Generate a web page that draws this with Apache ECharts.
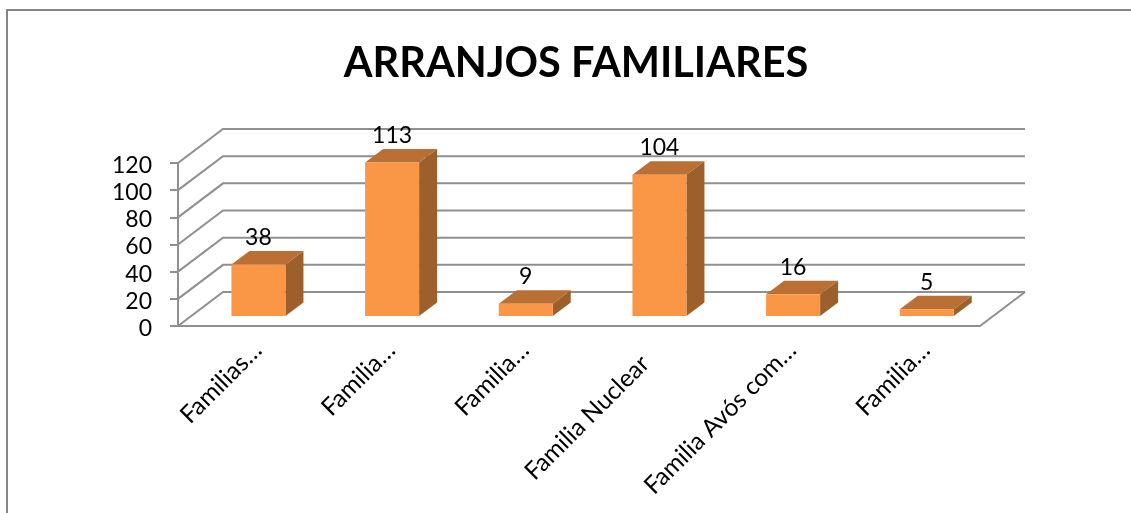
<!DOCTYPE html>
<html>
<head>
<meta charset="utf-8">
<title>Arranjos Familiares</title>
<style>
    html, body { margin: 0; padding: 0; background: #fff; }
    #chart { width: 1131px; height: 513px; }
</style>
<script src="https://cdn.jsdelivr.net/npm/echarts@6/dist/echarts.min.js"></script>
</head>
<body>
<div id="chart"></div>
<script>
var chartTitle = 'ARRANJOS FAMILIARES';
var categories = ['Familias…', 'Familia…', 'Familia…', 'Familia Nuclear', 'Familia Avós com…', 'Familia…'];
var values = [38, 113, 9, 104, 16, 5];
var yTicks = [0, 20, 40, 60, 80, 100, 120];

var fontName = 'Lato';
var lineColor = '#8f8f8f';
var depthX = 45, depthY = 34;     // parede do fundo em relacao ao plano da frente
var barX = 13.6, barY = 10;       // onde a base da barra fica no piso
var sideX = 18, sideY = 13.5;     // profundidade da propria barra

var myChart = echarts.init(document.getElementById('chart'));

function renderWall(params, api) {
    var p = api.coord([0, api.value(1)]);
    var left = params.coordSys.x;
    var right = params.coordSys.x + params.coordSys.width;
    var children = [{
        type: 'polyline',
        shape: { points: [[left, p[1]], [left + depthX, p[1] - depthY], [right + depthX, p[1] - depthY]] },
        style: { stroke: lineColor, lineWidth: 2, fill: null }
    }];
    if (api.value(1) === 0) {
        children.push({
            type: 'line',
            shape: { x1: right, y1: p[1], x2: right + depthX, y2: p[1] - depthY },
            style: { stroke: lineColor, lineWidth: 2 }
        });
    }
    return { type: 'group', children: children };
}

function renderBar(params, api) {
    var top = api.coord([api.value(0), api.value(1)]);
    var base = api.coord([api.value(0), 0]);
    var w = api.size([1, 0])[0] * 0.404;
    var x0 = top[0] + barX - w / 2;
    var x1 = x0 + w;
    var y0 = top[1] - barY;
    var y1 = base[1] - barY;
    return {
        type: 'group',
        children: [
            {
                type: 'polygon',
                shape: { points: [[x0, y0], [x0 + sideX, y0 - sideY], [x1 + sideX, y0 - sideY], [x1, y0]] },
                style: { fill: '#ba7034' }
            },
            {
                type: 'polygon',
                shape: { points: [[x1, y0], [x1 + sideX, y0 - sideY], [x1 + sideX, y1 - sideY], [x1, y1]] },
                style: { fill: '#9d5f2b' }
            },
            {
                type: 'rect',
                shape: { x: x0, y: y0, width: w, height: y1 - y0 },
                style: { fill: '#f99746' }
            },
            {
                type: 'text',
                x: (x0 + x1) / 2,
                y: y0 - 27,
                style: {
                    text: String(api.value(1)),
                    fill: '#000',
                    font: '23px ' + fontName,
                    align: 'center',
                    verticalAlign: 'middle'
                }
            }
        ]
    };
}

// rotulos sem reticencias ficam mais perto do eixo
function categoryItem(name) {
    var cut = name.indexOf('…') >= 0;
    return { value: name, textStyle: { padding: [0, cut ? -18 : 1, 0, 0] } };
}

var option = {
    animation: false,
    backgroundColor: '#fff',
    title: {
        text: chartTitle,
        left: 571,
        top: 38,
        textAlign: 'center',
        textStyle: { fontFamily: fontName, fontWeight: 'bold', fontSize: 41.5, color: '#000' }
    },
    graphic: [
        {
            type: 'polyline',
            shape: { points: [[7, 513], [7, 10], [1131, 10]] },
            style: { stroke: '#868686', lineWidth: 2, fill: null }
        }
    ],
    grid: { left: 178, right: 151, top: 163, bottom: 187 },
    xAxis: {
        type: 'category',
        data: categories.map(categoryItem),
        axisTick: { show: false },
        axisLine: { lineStyle: { color: lineColor, width: 2 } },
        axisLabel: {
            interval: 0,
            rotate: 45,
            margin: 33,
            color: '#000',
            fontFamily: fontName,
            fontSize: 24.5
        }
    },
    yAxis: {
        type: 'value',
        min: 0,
        max: 120,
        interval: 20,
        splitLine: { show: false },
        axisLine: { show: true, lineStyle: { color: lineColor, width: 2 } },
        axisTick: { show: true, length: 8, lineStyle: { color: lineColor, width: 2 } },
        axisLabel: {
            margin: 26,
            verticalAlign: 'top',
            padding: [-9, 0, 0, 0],
            color: '#000',
            fontFamily: fontName,
            fontSize: 23
        }
    },
    series: [
        {
            type: 'custom',
            renderItem: renderWall,
            silent: true,
            z: 1,
            encode: { x: 0, y: 1 },
            data: yTicks.map(function (t) { return [0, t]; })
        },
        {
            type: 'custom',
            renderItem: renderBar,
            z: 3,
            encode: { x: 0, y: 1 },
            data: values.map(function (v, i) { return [i, v]; })
        }
    ]
};
myChart.setOption(option);
</script>
</body>
</html>
